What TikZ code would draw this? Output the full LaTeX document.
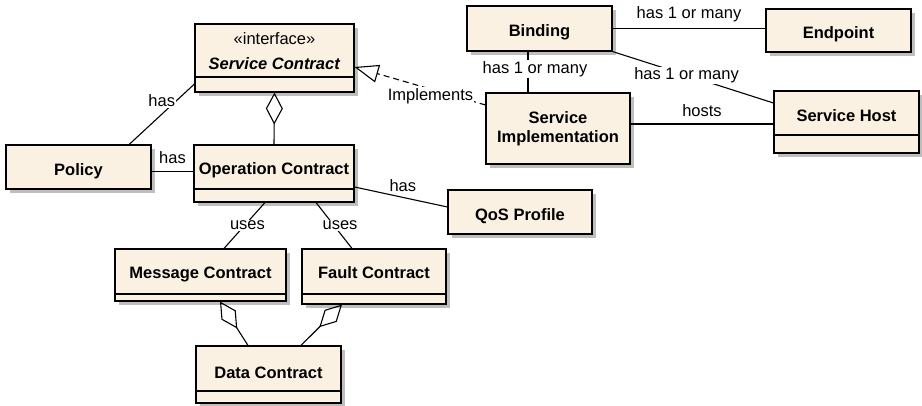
\documentclass[tikz,border=0pt]{standalone}
\usepackage{fontspec}
\setmainfont{Liberation Sans}
\usetikzlibrary{arrows.meta,shadows}

\definecolor{classfill}{RGB}{251,241,227}
\definecolor{shadowgray}{RGB}{190,190,190}

\tikzset{
  box/.style={draw, line width=1.1pt, fill=classfill, inner sep=0pt,
    font=\bfseries, text height=17pt, text depth=0pt,
    drop shadow={shadow xshift=4pt, shadow yshift=-4pt, fill=shadowgray, opacity=1}},
  % #1 = height of the empty compartment, #2 = extra depth to lift the name
  cls/.style 2 args={box, text height=12pt, text depth=#2pt,
    path picture={\draw[line width=1.1pt]
      ([yshift=#1pt]path picture bounding box.south west) --
      ([yshift=#1pt]path picture bounding box.south east);}},
  lbl/.style={font=\mdseries, inner sep=1pt, fill=white},
  conn/.style={line width=1.1pt},
  agg/.style={conn, -{Diamond[open, length=32pt, width=17pt]}},
  realize/.style={conn, dash pattern=on 6pt off 4pt,
    -{Triangle[open, length=24pt, width=18pt]}},
}

\begin{document}
\begin{tikzpicture}[x=1pt, y=-1pt]
\fontsize{16.5}{19}\selectfont
\useasboundingbox (0,0) rectangle (922,406);

% classes
\node (sc) [cls={15}{0}, minimum width=159pt, minimum height=68pt, text height=, text depth=]
  at (274.5,58)
  {\begin{tabular}{@{}c@{}}\mdseries «interface»\\[6pt]\textit{Service Contract}\\[9pt]\end{tabular}};
\node (pol)   [box, minimum width=145pt, minimum height=44pt] at (78.5,167) {Policy};
\node (oc)    [cls={13}{9}, minimum width=160pt, minimum height=57pt] at (274,173.5) {Operation Contract};
\node (qos)   [box, minimum width=144pt, minimum height=44pt] at (520,212) {QoS Profile};
\node (bind)  [box, minimum width=145pt, minimum height=45pt] at (539.5,28.5) {Binding};
\node (endp)  [box, minimum width=145pt, minimum height=43pt] at (838.5,30.5) {Endpoint};
\node (impl)  [box, minimum width=144pt, minimum height=71pt, align=center,
  text height=, text depth=] at (558,128.5)
  {Service\\Implementation};
\node (host)  [cls={18}{12}, minimum width=145pt, minimum height=62pt] at (846.5,122) {Service Host};
\node (msg)   [cls={7}{4}, minimum width=171pt, minimum height=52pt] at (200.5,275) {Message Contract};
\node (fault) [cls={10}{7}, minimum width=144pt, minimum height=55pt] at (374,276.5) {Fault Contract};
\node (data)  [cls={12}{5}, minimum width=145pt, minimum height=57pt] at (268.5,374.5) {Data Contract};

% associations
\draw[conn] (sc.198) -- node[lbl, pos=0.5, yshift=13.5pt] {has} (pol.24);
\draw[conn] ([yshift=2pt]oc.west) -- node[lbl, above=6pt] {has} ([yshift=2pt]oc.west -| pol.east);
\draw[conn] ([yshift=-13.5pt]oc.east) -- node[lbl, pos=0.52, above=4pt] {has} ([yshift=5pt]qos.west);
\draw[conn] ([xshift=-9pt]oc.south) -- node[lbl, xshift=3pt] {uses} ([xshift=23.5pt]msg.north);
\draw[conn] ([xshift=42pt]oc.south) -- node[lbl, xshift=6pt] {uses} ([xshift=-22pt]fault.north);
\draw[conn] ([xshift=-11.5pt]bind.south) coordinate (bb)
  -- node[lbl, xshift=7pt, yshift=3pt] {has 1 or many} (bb |- impl.north);
\draw[conn] (bind.east) -- node[lbl, above=5pt] {has 1 or many} (bind.east -| endp.west);
\draw[conn] (bind.south east) -- node[lbl, pos=0.46] {has 1 or many} ([yshift=19pt]host.west);
\draw[conn] ([yshift=4.5pt]impl.east) coordinate (ih)
  -- node[lbl, above=6pt] {hosts} (ih -| host.west);

% aggregations
\draw[agg] (oc.north) -- (sc.south);
\draw[agg] ([xshift=-20.5pt]data.north) -- ([xshift=19.5pt]msg.south);
\draw[agg] ([xshift=32.5pt]data.north) -- ([xshift=-32pt]fault.south);

% realization
\draw[realize] ([yshift=23.5pt]impl.west)
  -- node[lbl, pos=0.42, yshift=-7pt] {Implements} ([yshift=-9pt]sc.east);
\end{tikzpicture}
\end{document}
